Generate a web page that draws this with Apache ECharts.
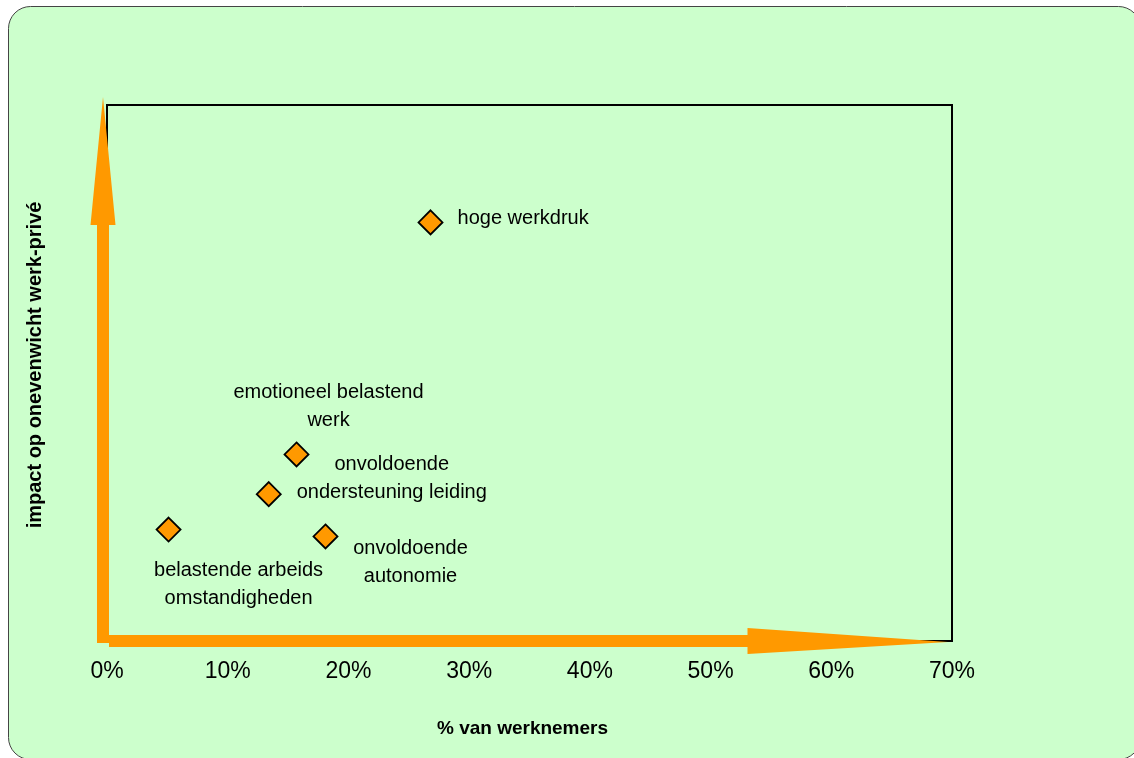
<!DOCTYPE html>
<html>
<head>
<meta charset="utf-8">
<title>Impact op onevenwicht werk-privé</title>
<script src="https://cdn.jsdelivr.net/npm/echarts@6/dist/echarts.min.js"></script>
<style>
  html, body { margin: 0; padding: 0; background: #ffffff; }
  #chart { width: 1134px; height: 758px; }
</style>
</head>
<body>
<div id="chart"></div>
<script>
// Risk factors: share of employees (x, %) versus impact on work-life imbalance (y, relative scale 0-100)
const factors = [
  'hoge werkdruk',
  'emotioneel belastend\nwerk',
  'onvoldoende\nondersteuning leiding',
  'belastende arbeids\nomstandigheden',
  'onvoldoende\nautonomie'
];
const shareOfEmployees = [26.8, 15.7, 13.4, 5.1, 18.1];
const impactScore = [78.1, 34.8, 27.4, 20.8, 19.5];
const xTicks = [0, 10, 20, 30, 40, 50, 60, 70];

// Label placement per factor (offset from the point centre)
const labelPlacement = {
  'hoge werkdruk': { align: 'left', offset: [27, -4] },
  'emotioneel belastend\nwerk': { align: 'center', offset: [32, -48] },
  'onvoldoende\nondersteuning leiding': { align: 'center', offset: [123, -16] },
  'belastende arbeids\nomstandigheden': { align: 'center', offset: [70, 55] },
  'onvoldoende\nautonomie': { align: 'center', offset: [85, 26] }
};

const ORANGE = '#FF9900';
const BG = '#CCFFCC';
const FONT = '"Liberation Sans", Arial, Helvetica, sans-serif';

const points = factors.map((name, i) => ({
  name: name,
  value: [shareOfEmployees[i], impactScore[i]],
  label: {
    show: true,
    position: 'inside',
    align: labelPlacement[name].align,
    verticalAlign: 'middle',
    offset: labelPlacement[name].offset
  }
}));

const chart = echarts.init(document.getElementById('chart'), null, { renderer: 'canvas' });

const option = {
  backgroundColor: '#ffffff',
  animation: false,
  textStyle: { fontFamily: FONT },
  grid: {
    left: 107, right: 182, top: 105, bottom: 117,
    show: true,
    backgroundColor: 'transparent',
    borderColor: '#000000',
    borderWidth: 2
  },
  xAxis: {
    type: 'value',
    min: xTicks[0],
    max: xTicks[xTicks.length - 1],
    interval: 10,
    name: '% van werknemers',
    nameLocation: 'middle',
    nameGap: 78,
    nameTextStyle: { fontFamily: FONT, fontSize: 19, fontWeight: 'bold', color: '#000', padding: [0, 14, 0, 0] },
    axisLine: { show: false },
    axisTick: { show: false },
    splitLine: { show: false },
    axisLabel: {
      margin: 19,
      fontFamily: FONT,
      fontSize: 23,
      color: '#000',
      formatter: v => v + '%'
    }
  },
  yAxis: {
    type: 'value',
    min: 0,
    max: 100,
    name: 'impact op onevenwicht werk-privé',
    nameLocation: 'middle',
    nameGap: 62,
    nameTextStyle: { fontFamily: FONT, fontSize: 20, fontWeight: 'bold', color: '#000', padding: [0, 0, 0, 16] },
    axisLine: { show: false },
    axisTick: { show: false },
    axisLabel: { show: false },
    splitLine: { show: false }
  },
  series: [{
    type: 'scatter',
    symbol: 'diamond',
    symbolSize: 24,
    itemStyle: { color: ORANGE, borderColor: '#000', borderWidth: 1.8, opacity: 1 },
    label: {
      fontFamily: FONT,
      fontSize: 20,
      lineHeight: 28,
      color: '#000',
      formatter: p => p.name
    },
    emphasis: { disabled: true },
    data: points,
    z: 5
  }]
};

chart.setOption(option);

// Rounded panel behind the chart and the orange arrows along the axes
const o = chart.convertToPixel({ gridIndex: 0 }, [0, 0]);
const xe = chart.convertToPixel({ gridIndex: 0 }, [xTicks[xTicks.length - 1], 0]);
const yt = chart.convertToPixel({ gridIndex: 0 }, [0, 100]);

const hHeadBase = o[0] + (xe[0] - o[0]) * 0.758;
const vHeadBase = o[1] - (o[1] - yt[1]) * 0.776;
const vx = o[0] - 4;

chart.setOption({
  graphic: [
    {
      type: 'rect',
      z: -10,
      silent: true,
      shape: { x: 8.5, y: 6.5, width: 1132, height: 753, r: 22 },
      style: { fill: BG, stroke: '#444444', lineWidth: 1 }
    },
    {
      type: 'polygon',
      z: 10,
      silent: true,
      shape: {
        points: [
          [o[0] + 2, o[1] - 6],
          [hHeadBase, o[1] - 6],
          [hHeadBase, o[1] - 13],
          [xe[0] - 4, o[1] + 1],
          [hHeadBase, o[1] + 13],
          [hHeadBase, o[1] + 6],
          [o[0] + 2, o[1] + 6]
        ]
      },
      style: { fill: ORANGE }
    },
    {
      type: 'polygon',
      z: 10,
      silent: true,
      shape: {
        points: [
          [vx - 6, o[1] + 2],
          [vx - 6, vHeadBase],
          [vx - 12.5, vHeadBase],
          [vx, yt[1] - 8],
          [vx + 12.5, vHeadBase],
          [vx + 6, vHeadBase],
          [vx + 6, o[1] + 2]
        ]
      },
      style: { fill: ORANGE }
    }
  ]
});
</script>
</body>
</html>
